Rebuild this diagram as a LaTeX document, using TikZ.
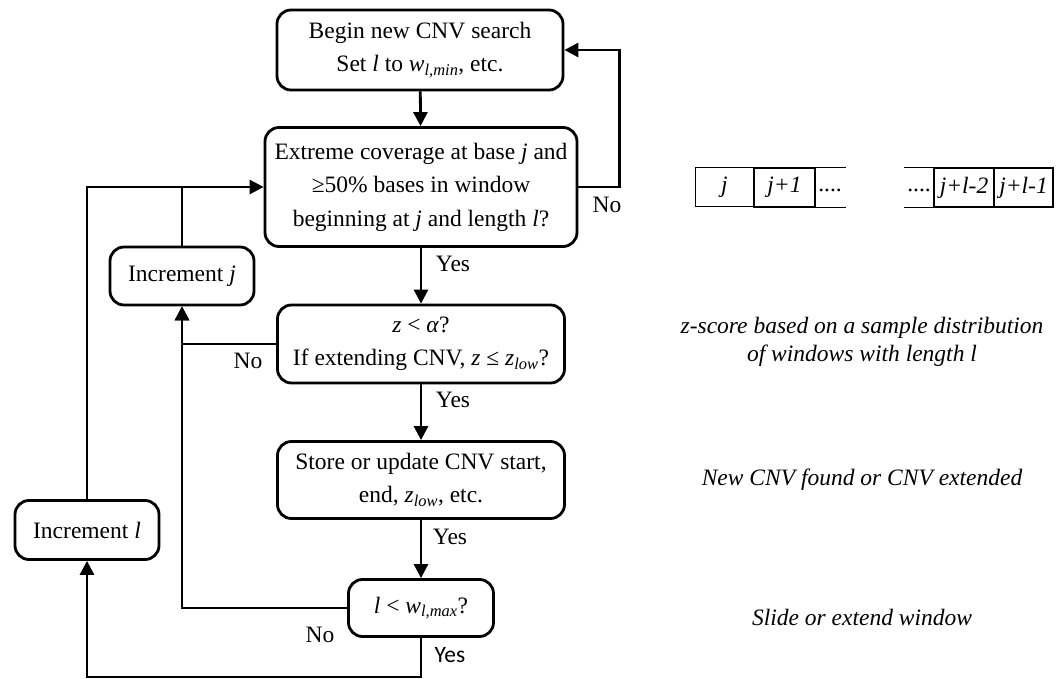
\documentclass[tikz,border=0pt]{standalone}
\usepackage{fontspec}
\setmainfont{Liberation Serif}
\newfontfamily\yesfont{Carlito}
\usetikzlibrary{arrows.meta}

\begin{document}
\begin{tikzpicture}[x=1pt, y=-1pt, line width=2.8pt, >={Triangle[length=14pt,width=14pt]},
  box/.style={draw, rounded corners=14pt, align=center, inner sep=0pt, font=\fontsize{23.5}{33.5}\selectfont},
  lbl/.style={font=\fontsize{23.5}{26}\selectfont},
  note/.style={font=\fontsize{23.5}{28}\selectfont\itshape, align=center},
  cell/.style={draw, line width=1pt, minimum height=39pt, inner sep=0pt, font=\fontsize{23.5}{26}\selectfont\itshape}]
  \useasboundingbox (0,0) rectangle (1063,679);

  % flow chart
  \node[box, minimum width=286pt, minimum height=80pt] (begin) at (420,50) {Begin new CNV search\\Set \textit{l} to \textit{w}\textsubscript{\textit{l,min}}, etc.};
  \node[box, minimum width=312pt, minimum height=119pt] (extreme) at (421,187) {Extreme coverage at base \textit{j} and\\≥50\% bases in window\\beginning at \textit{j} and length \textit{l}?};
  \node[box, minimum width=144pt, minimum height=58pt] (incj) at (182,276) {Increment \textit{j}};
  \node[box, minimum width=287pt, minimum height=78pt] (zscore) at (421,344) {\textit{z} < \textit{α}?\\If extending CNV, \textit{z} ≤ \textit{z}\textsubscript{\textit{low}}?};
  \node[box, minimum width=287pt, minimum height=77pt] (store) at (421,480) {Store or update CNV start,\\end, \textit{z}\textsubscript{\textit{low}}, etc.};
  \node[box, minimum width=145pt, minimum height=57pt] (wmax) at (421,608) {\textit{l} < \textit{w}\textsubscript{\textit{l,max}}?};
  \node[box, minimum width=144pt, minimum height=59pt] (incl) at (87,530) {Increment \textit{l}};

  \draw[->] (begin) -- (extreme);
  \draw[->] (extreme.east) -- ++(41,0) |- (begin.east);
  \draw[->] (extreme) -- (zscore);
  \draw[->] (zscore) -- (store);
  \draw[->] (store) -- (wmax);
  \draw[->] (zscore.west) -| (incj.south);
  \draw[->] (wmax.west) -| (incj.south);
  \draw[->] (wmax.south) -- ++(0,39) -| (incl.south);
  \draw[->] (incl.north) |- (extreme.west);
  \draw (incj.north) -- (incj.north |- extreme.west);

  \node[lbl] (no1) at (607,205) {No};
  \node[lbl] (yes1) at (453,264) {Yes};
  \node[lbl] (no2) at (248,361) {No};
  \node[lbl] (yes2) at (453,400) {Yes};
  \node[lbl] (yes3) at (450,537) {Yes};
  \node[lbl] (no3) at (320,635) {No};
  \node[lbl, font=\yesfont\fontsize{23.5}{26}\selectfont] (yes4) at (450,655) {Yes};

  % window of bases
  \node[cell, minimum width=59pt] (c1) at (724.5,187.5) {j};
  \node[cell, minimum width=61pt, line width=1.6pt] (c2) at (784.5,187.5) {j+1};
  \node[cell, minimum width=60pt, line width=1.6pt] (c3) at (964,187.5) {j+l-2};
  \node[cell, minimum width=59pt, line width=1.6pt] (c4) at (1023.5,187.5) {j+l-1};
  \draw[line width=1pt] (c2.north east) -- ++(30,0) (c2.south east) -- ++(30,0);
  \draw[line width=1pt] (c3.north west) -- ++(-29,0) (c3.south west) -- ++(-29,0);
  \node[lbl] (dots1) at (830,190) {....};
  \node[lbl] (dots2) at (919,190) {....};

  % notes
  \node[note] (zdist) at (862,342) {z-score based on a sample distribution\\of windows with length l};
  \node[note] (found) at (862,480) {New CNV found or CNV extended};
  \node[note] (slide) at (862,617) {Slide or extend window};
\end{tikzpicture}
\end{document}
